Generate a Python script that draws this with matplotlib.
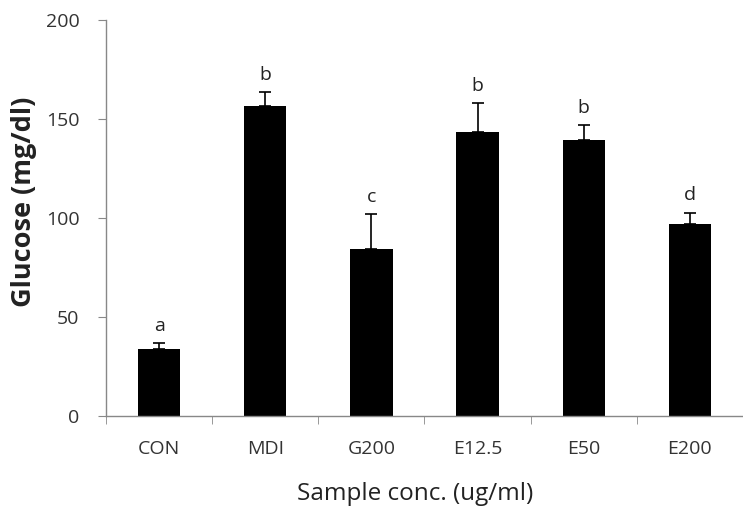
import matplotlib
matplotlib.use("Agg")
import matplotlib.pyplot as plt
import numpy as np

categories = ["CON", "MDI", "G200", "E12.5", "E50", "E200"]
means = [33.7, 156.7, 84.3, 143.6, 139.2, 97.0]
errors = [3.2, 6.8, 17.7, 14.3, 7.8, 5.7]
letters = ["a", "b", "c", "b", "b", "d"]

plt.rcParams['font.family'] = ['Open Sans', 'DejaVu Sans']

fig = plt.figure(figsize=(7.43, 5.08), dpi=100)
ax = fig.add_axes([106/743, 92/508, 637/743, 396/508])

x = np.arange(len(categories))
ax.bar(x, means, width=0.4, color="black", zorder=2)
ax.errorbar(x, means, yerr=[np.zeros(len(errors)), errors], fmt="none",
            ecolor="black", elinewidth=1.2, capsize=4, capthick=1.2, zorder=3)
for xi, m, e, l in zip(x, means, errors, letters):
    ax.annotate(l, (xi, m + e), xytext=(0, 6), textcoords="offset points",
                ha="center", va="bottom", fontsize=14, color="#222222")

ax.set_xlim(-0.5, len(categories) - 0.5)
ax.set_ylim(0, 200)
ax.set_yticks([0, 50, 100, 150, 200])
ax.set_xticks(x)
ax.set_xticklabels(categories)
ax.set_xticks(np.arange(-0.5, len(categories) - 0.4, 1), minor=True)
ax.tick_params(axis="x", which="major", length=0, pad=17, labelsize=14, labelcolor="#333333")
ax.tick_params(axis="x", which="minor", length=6, color="#888888", direction="out")
ax.tick_params(axis="y", length=6, color="#888888", direction="out", labelsize=14,
               labelcolor="#333333", pad=13)

for s in ["top", "right"]:
    ax.spines[s].set_visible(False)
for s in ["left", "bottom"]:
    ax.spines[s].set_color("#888888")
    ax.spines[s].set_linewidth(1.0)

ax.set_ylabel("Glucose (mg/dl)", fontsize=19.5, fontweight="bold", color="#222222", va="center")
ax.yaxis.set_label_coords(-0.129, 0.54)
ax.set_xlabel("Sample conc. (ug/ml)", fontsize=17.5, color="#222222", va="center")
ax.xaxis.set_label_coords(0.485, -0.197)

fig.savefig("out.png", dpi=100)
